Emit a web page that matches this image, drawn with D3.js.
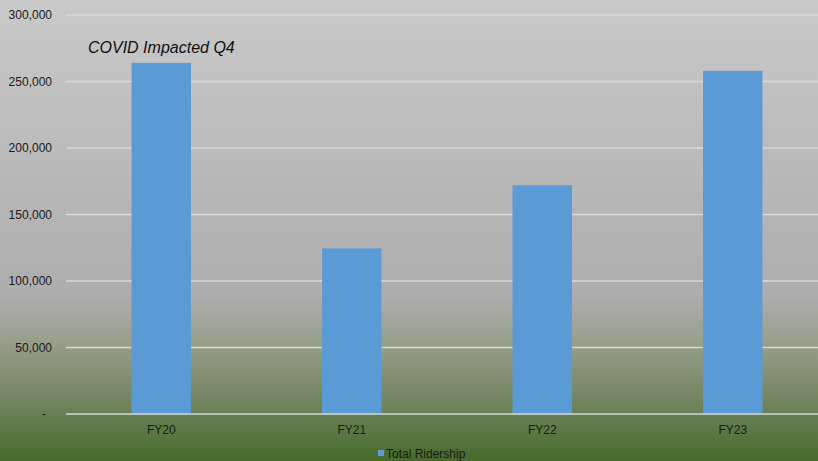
<!DOCTYPE html>
<html><head><meta charset="utf-8">
<script src="https://cdn.jsdelivr.net/npm/d3@7"></script>
<style>html,body{margin:0;padding:0;overflow:hidden;}svg{display:block;}</style>
</head><body>
<script>
const categories = ["FY20", "FY21", "FY22", "FY23"];
const ridership = [264000, 124500, 172000, 258000];
const yTicks = [0, 50000, 100000, 150000, 200000, 250000, 300000];
const seriesName = "Total Ridership";
const annotation = "COVID Impacted Q4";

const W = 818, H = 461;
const svg = d3.select("body").append("svg").attr("width", W).attr("height", H);
const defs = svg.append("defs");
const grad = defs.append("linearGradient").attr("id", "bg").attr("x1", 0).attr("y1", 0).attr("x2", 0).attr("y2", 1);
[[0, "#c9c9c9"], [0.64, "#adadad"], [0.73, "#9ba08f"], [0.84, "#7b8b69"], [1, "#476a2c"]].forEach(([o, c]) =>
  grad.append("stop").attr("offset", o).attr("stop-color", c));
svg.append("rect").attr("width", W).attr("height", H).attr("fill", "url(#bg)");

const x = d3.scaleBand().domain(categories).range([66, 828]).paddingInner(0.688).paddingOuter(0.344);
const y = d3.scaleLinear().domain([0, 300000]).range([414, 15]);

// gridlines
svg.append("g").selectAll("line").data(yTicks.filter(d => d > 0)).join("line")
  .attr("x1", 66).attr("x2", W).attr("y1", d => y(d)).attr("y2", d => y(d))
  .attr("stroke", "#d9d9d9").attr("stroke-width", 1.3);

// bars
svg.append("g").selectAll("rect").data(categories).join("rect")
  .attr("x", d => x(d)).attr("width", x.bandwidth())
  .attr("y", (d, i) => y(ridership[i])).attr("height", (d, i) => y(0) - y(ridership[i]))
  .attr("fill", "#5b9bd5");

// baseline
svg.append("line").attr("x1", 66).attr("x2", W).attr("y1", y(0)).attr("y2", y(0))
  .attr("stroke", "#d6d6d6").attr("stroke-width", 1.3);

const font = "'Liberation Sans', Arial, sans-serif";
// y axis labels
const fmt = d3.format(",");
svg.append("g").selectAll("text").data(yTicks).join("text")
  .attr("x", d => d === 0 ? 46 : 52).attr("y", d => y(d)).attr("dy", "0.35em")
  .attr("text-anchor", "end").attr("font-family", font).attr("font-size", 12).attr("fill", "#1a1a1a")
  .text(d => d === 0 ? "-" : fmt(d));

// x axis labels
svg.append("g").selectAll("text").data(categories).join("text")
  .attr("x", d => x(d) + x.bandwidth() / 2).attr("y", 433.5)
  .attr("text-anchor", "middle").attr("font-family", font).attr("font-size", 12).attr("fill", "#1a1a1a")
  .text(d => d);

// annotation
svg.append("text").attr("x", 88).attr("y", 53).attr("font-family", font).attr("font-style", "italic")
  .attr("font-size", 16).attr("fill", "#111").text(annotation);

// legend
svg.append("rect").attr("x", 378).attr("y", 450).attr("width", 6).attr("height", 6).attr("fill", "#5b9bd5");
svg.append("text").attr("x", 386).attr("y", 458).attr("font-family", font).attr("font-size", 12)
  .attr("fill", "#1a1a1a").text(seriesName);
</script>
</body></html>
